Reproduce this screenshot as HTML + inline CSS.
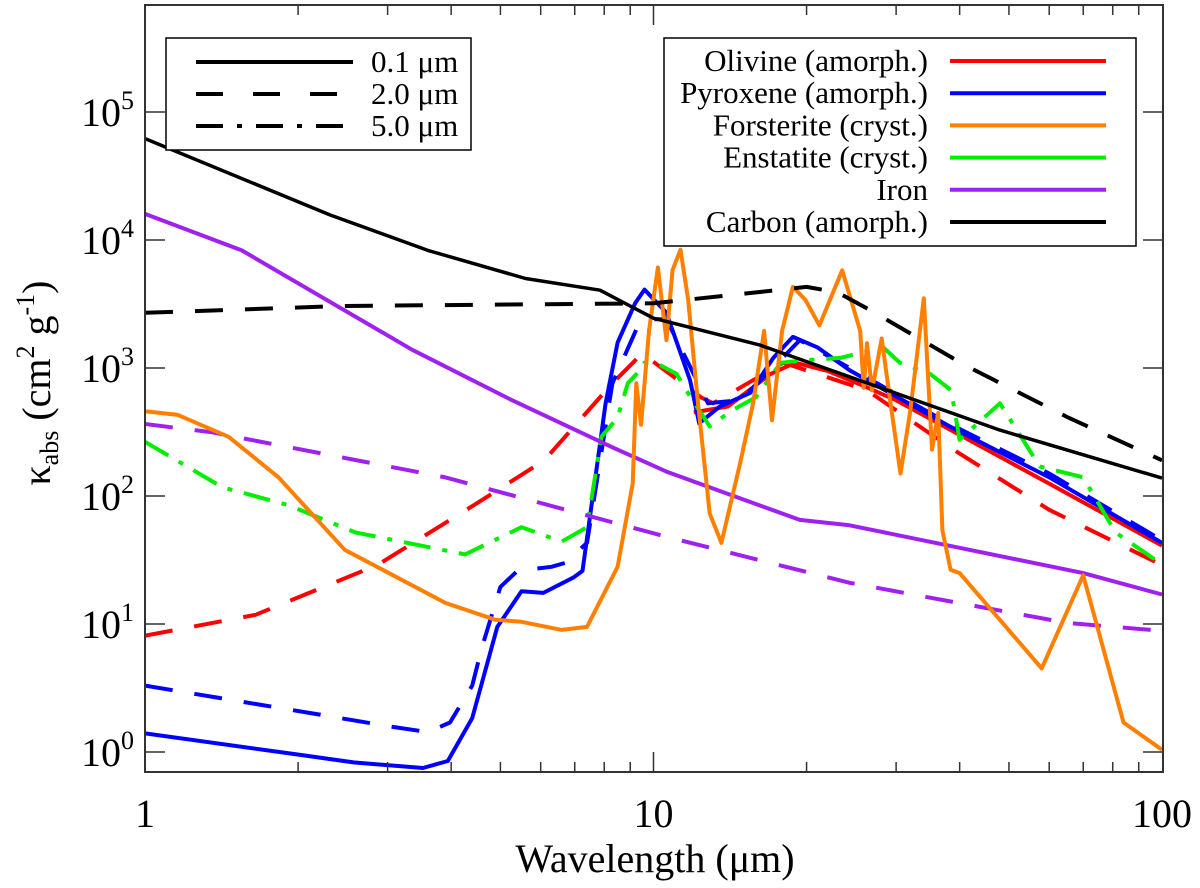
<!DOCTYPE html>
<html><head><meta charset="utf-8">
<style>
html,body{margin:0;padding:0;background:#fff;}
svg{display:block;font-family:"Liberation Serif",serif;}
</style></head>
<body>
<svg id="chart" width="1200" height="888" viewBox="0 0 1200 888" xmlns="http://www.w3.org/2000/svg">
  <g id="marks"></g>
  <g id="axes"></g>
  <text x="655" y="872" font-size="40" text-anchor="middle">Wavelength (μm)</text>
  <text transform="translate(50,383) rotate(-90)" font-size="40" text-anchor="middle">κ<tspan font-size="26" dy="8">abs</tspan><tspan dy="-8"> (cm</tspan><tspan font-size="26" dy="-16">2</tspan><tspan dy="16"> g</tspan><tspan font-size="26" dy="-16">-1</tspan><tspan dy="16">)</tspan></text>
  <g>
    <rect x="166" y="38" width="305" height="112" fill="#fff" stroke="#000" stroke-width="1.5"/>
    <line x1="196" y1="62" x2="353" y2="62" stroke="#000" stroke-width="4"/>
    <line x1="196" y1="94" x2="353" y2="94" stroke="#000" stroke-width="4" stroke-dasharray="27 30"/>
    <line x1="196" y1="126" x2="353" y2="126" stroke="#000" stroke-width="4" stroke-dasharray="27 14 5 14"/>
    <text x="371" y="72" font-size="31">0.1 μm</text>
    <text x="371" y="104" font-size="31">2.0 μm</text>
    <text x="371" y="136" font-size="31">5.0 μm</text>
  </g>
  <g id="mat-legend">
    <rect x="664" y="38" width="472" height="208" fill="#fff" stroke="#000" stroke-width="1.5"/>
  </g>
</svg>
<script>
const X0=145,X1=1163,YTOP=5,YBOT=772;
function xs(l){return X0+Math.log10(l)*508.5;}
function ys(k){return 752-Math.log10(k)*128;}

const materials=["Olivine (amorph.)","Pyroxene (amorph.)","Forsterite (cryst.)","Enstatite (cryst.)","Iron","Carbon (amorph.)"];
const yTicks=[0,1,2,3,4,5];
const xTicks=[1,10,100];

const carbonSolidX=[1,2.31,3.6,5.6,7.85,10,16.2,30.5,48,100];
const carbonSolidY=[62000,15700,8300,5000,4050,2450,1510,620,327,138];
const carbonDashX=[1,2.44,10,16,20,23,26.7,41,65,100];
const carbonDashY=[2700,3050,3200,3900,4300,3900,2830,1050,415,190];
const ironSolidX=[1,1.55,3.35,5.27,8.3,10.6,19.4,24.3,70,100];
const ironSolidY=[16000,8300,1390,560,240,155,65,59,25,17];
const ironDashX=[1,1.35,3.89,10.6,24.3,65,95,100];
const ironDashY=[365,315,140,48,21,10.2,9,8.8];
const olivSolidX=[12,14,17,19,22,26,30,40,60,100];
const olivSolidY=[450,500,900,1100,950,720,560,300,125,41];
const olivDashX=[1,1.65,2.87,4.5,6.1,8.3,9.5,12.4,13.1,18,26.3,38.9,60,98];
const olivDashY=[8.1,11.8,29,88,190,760,1300,590,530,1100,670,230,78,30];
const pyrSolidX=[1,2.02,2.57,3.52,3.94,4.4,4.93,5.5,6.07,6.95,7.25,8.05,8.5,9.2,9.6,10.6,11.8,12.3,13.5,15.5,17.2,18.8,21,24.3,38.5,60,100];
const pyrSolidY=[1.4,0.95,0.83,0.75,0.85,1.84,9.5,18,17.5,23,26,530,1580,3200,4100,2700,800,370,500,640,1200,1750,1450,960,345,140,43];
const pyrDashX=[1,2.14,3.07,3.6,3.98,4.4,4.6,5,5.4,6.3,6.7,7.4,8.3,9.3,10,10.6,11.9,12.8,14.8,16.7,19.4,24.3,38.5,60,100];
const pyrDashY=[3.3,2.0,1.57,1.43,1.7,3.3,6.6,19.5,26,28,30,43,760,2100,2400,2400,960,530,560,900,1650,1000,360,150,45];
const enstX=[1,1.42,1.91,2.59,4.26,5.5,6.6,7.4,7.9,8.5,8.9,9.5,9.6,10.1,11.1,11.8,12.9,14.3,15.9,17.8,20,23.3,28.3,30.5,35,38.5,40,48,57.5,70,81,99];
const enstY=[265,117,85,52,35,57,44,57,290,410,760,1000,1100,1100,900,600,350,470,590,1100,1150,1200,1450,1100,900,670,275,530,170,140,52,30];
const forsX=[1,1.16,1.46,1.83,2.47,3.9,4.88,5.5,6.6,7.4,8.5,9.1,9.25,9.45,9.8,10.2,10.6,10.9,11.3,11.7,12.2,12.9,13.6,14.8,15.7,16.5,17.1,17.9,18.8,19.9,21.2,23.5,25.5,25.9,26.3,26.9,28.1,29.2,30.6,32,34,35.3,36.3,37,38.4,40,58,70,84,100];
const forsY=[460,430,290,140,38,14.6,10.8,10.4,9,9.5,28,125,760,360,1950,6100,1650,5800,8400,3400,590,73,43,180,530,1950,390,1950,4300,3400,2150,5800,1950,700,1560,670,1700,560,150,470,3500,230,445,54,26.5,25,4.5,24,1.7,1.04];

const NS="http://www.w3.org/2000/svg";
const marks=document.getElementById('marks');
const axes=document.getElementById('axes');
const clip=document.createElementNS(NS,'clipPath');clip.setAttribute('id','pc');
const cr=document.createElementNS(NS,'rect');cr.setAttribute('x',X0);cr.setAttribute('y',YTOP);cr.setAttribute('width',X1-X0);cr.setAttribute('height',YBOT-YTOP);
clip.appendChild(cr);marks.appendChild(clip);marks.setAttribute('clip-path','url(#pc)');

function series(name,X,Y,color,dash,w){
  const p=document.createElementNS(NS,'path');
  
  
  p.setAttribute('d',X.map((l,i)=>(i?'L':'M')+xs(l).toFixed(1)+','+ys(Y[i]).toFixed(1)).join(''));
  p.setAttribute('fill','none');p.setAttribute('stroke',color);p.setAttribute('stroke-width',w||4);
  p.setAttribute('stroke-linejoin','round');
  if(dash)p.setAttribute('stroke-dasharray',dash);
  marks.appendChild(p);
}
const D="28 22",DD="27 12 5 12";
series('olivine-0.1um',olivSolidX,olivSolidY,'#ff0000');
series('olivine-2um',olivDashX,olivDashY,'#ff0000',D);
series('pyroxene-0.1um',pyrSolidX,pyrSolidY,'#0000ff');
series('pyroxene-2um',pyrDashX,pyrDashY,'#0000ff',D);
series('enstatite-5um',enstX,enstY,'#00ee00',DD);
series('iron-0.1um',ironSolidX,ironSolidY,'#a020f0');
series('iron-2um',ironDashX,ironDashY,'#a020f0',D);
series('forsterite-0.1um',forsX,forsY,'#ff7f00');
series('carbon-2um',carbonDashX,carbonDashY,'#000000',D);
series('carbon-0.1um',carbonSolidX,carbonSolidY,'#000000',null,3.5);

function ln(x1,y1,x2,y2,w){const l=document.createElementNS(NS,'line');l.setAttribute('x1',x1);l.setAttribute('y1',y1);l.setAttribute('x2',x2);l.setAttribute('y2',y2);l.setAttribute('stroke','#333');l.setAttribute('stroke-width',w||1.5);axes.appendChild(l);return l;}
const fr=document.createElementNS(NS,'rect');


fr.setAttribute('x',X0);fr.setAttribute('y',YTOP);fr.setAttribute('width',X1-X0);fr.setAttribute('height',YBOT-YTOP);fr.setAttribute('fill','none');fr.setAttribute('stroke','#333');fr.setAttribute('stroke-width',2);
axes.appendChild(fr);
for(const e of yTicks){
  const y=ys(Math.pow(10,e));
  ln(X0,y,X0+20,y);ln(X1-20,y,X1,y);
  const t=document.createElementNS(NS,'text');
  
  
  t.setAttribute('x',121);t.setAttribute('y',y+14);t.setAttribute('font-size',40);t.setAttribute('text-anchor','end');
  t.textContent='10';axes.appendChild(t);
  const s=document.createElementNS(NS,'text');
  
  
  s.setAttribute('x',121);s.setAttribute('y',y-3);s.setAttribute('font-size',26);
  s.textContent=String(e);axes.appendChild(s);
}
for(let d=1;d<100;d*=10){for(let m=1;m<10;m++){const v=d*m;const x=xs(v);const len=m===1?20:10;ln(x,YBOT,x,YBOT-len);ln(x,YTOP,x,YTOP+len);}}
for(const v of xTicks){
  const t=document.createElementNS(NS,'text');
  
  
  t.setAttribute('x',xs(v));t.setAttribute('y',827);t.setAttribute('font-size',40);t.setAttribute('text-anchor','middle');
  t.textContent=String(v);axes.appendChild(t);
}
const colors=['#ff0000','#0000ff','#ff7f00','#00ee00','#a020f0','#000000'];
const lg=document.getElementById('mat-legend');
materials.forEach((m,i)=>{
  const y=61+i*32.2;
  const g=document.createElementNS(NS,'g');
  
  
  const t=document.createElementNS(NS,'text');
  t.setAttribute('x',928);t.setAttribute('y',y+10);t.setAttribute('font-size',31);t.setAttribute('text-anchor','end');
  t.textContent=m;g.appendChild(t);
  const l=document.createElementNS(NS,'line');
  l.setAttribute('x1',950);l.setAttribute('x2',1106);l.setAttribute('y1',y);l.setAttribute('y2',y);l.setAttribute('stroke',colors[i]);l.setAttribute('stroke-width',4);
  g.appendChild(l);lg.appendChild(g);
});
</script>
</body></html>
